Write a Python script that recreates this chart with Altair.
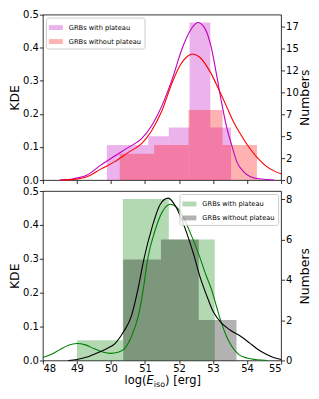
import altair as alt
import pandas as pd

FONT = "DejaVu Sans"
X_DOMAIN = [48, 55]
X_TICKS = [48, 49, 50, 51, 52, 53, 54, 55]
KDE_TICKS = [0.0, 0.1, 0.2, 0.3, 0.4, 0.5]
LABELS = ["GRBs with plateau", "GRBs without plateau"]

# ---------------- top panel data ----------------
TOP_WITH_EDGES = [49.88, 50.49, 51.10, 51.70, 52.31, 52.92, 53.53]
TOP_WITH_COUNTS = [4, 4, 5, 6, 18, 6]
TOP_WITHOUT_EDGES = [50.26, 51.27, 52.28, 53.28, 54.29]
TOP_WITHOUT_COUNTS = [3, 4, 8, 4]

TOP_WITH_KDE_X = [48.5, 48.9, 49.3, 49.7, 50.1, 50.5, 50.9, 51.2, 51.5, 51.8, 52.1, 52.35,
                  52.55, 52.75, 52.95, 53.1, 53.25, 53.4, 53.55, 53.7, 53.9, 54.1, 54.4, 54.8]
TOP_WITH_KDE_Y = [0.000, 0.004, 0.015, 0.045, 0.072, 0.098, 0.125, 0.165, 0.225, 0.305, 0.400, 0.455,
                  0.476, 0.460, 0.400, 0.320, 0.235, 0.160, 0.105, 0.055, 0.025, 0.010, 0.003, 0.000]
TOP_WITHOUT_KDE_X = [48.5, 48.9, 49.3, 49.7, 50.1, 50.5, 50.9, 51.2, 51.5, 51.8, 52.05, 52.25,
                     52.4, 52.6, 52.9, 53.2, 53.4, 53.6, 53.8, 54.05, 54.3, 54.55, 54.8, 55.0]
TOP_WITHOUT_KDE_Y = [0.000, 0.002, 0.010, 0.033, 0.055, 0.083, 0.110, 0.150, 0.210, 0.295, 0.350, 0.374,
                     0.381, 0.372, 0.330, 0.267, 0.222, 0.176, 0.140, 0.100, 0.068, 0.043, 0.027, 0.019]
TOP_RIGHT_MAX = 18.9
TOP_RIGHT_TICKS = [0, 2.5, 5, 7.5, 10, 12.5, 15, 17.5]
TOP_COLORS = ["#bf00bf", "#ff0000"]

# ---------------- bottom panel data ----------------
BOT_WITH_EDGES = [49.00, 50.35, 51.70, 53.05]
BOT_WITH_COUNTS = [1, 8, 6]
BOT_WITHOUT_EDGES = [50.36, 51.47, 52.58, 53.69]
BOT_WITHOUT_COUNTS = [5, 6, 2]

BOT_WITH_KDE_X = [48.0, 48.25, 48.5, 48.75, 49.0, 49.25, 49.5, 49.75, 50.0, 50.2, 50.4, 50.6,
                  50.8, 50.95, 51.08, 51.3, 51.5, 51.75, 51.95, 52.15, 52.35, 52.55, 52.8, 52.96,
                  53.1, 53.25, 53.4, 53.55, 53.75, 54.0, 54.3, 54.6]
BOT_WITH_KDE_Y = [0.009, 0.018, 0.032, 0.045, 0.050, 0.046, 0.035, 0.025, 0.021, 0.024, 0.035, 0.070,
                  0.130, 0.210, 0.300, 0.385, 0.437, 0.461, 0.450, 0.418, 0.372, 0.322, 0.250, 0.208,
                  0.160, 0.110, 0.070, 0.042, 0.018, 0.007, 0.002, 0.000]
BOT_WITHOUT_KDE_X = [48.75, 49.0, 49.3, 49.64, 49.9, 50.12, 50.36, 50.6, 50.79, 50.97, 51.2, 51.45,
                     51.68, 51.9, 52.14, 52.43, 52.62, 52.8, 53.0, 53.25, 53.5, 53.8, 54.07, 54.3,
                     54.55, 54.8, 55.0]
BOT_WITHOUT_KDE_Y = [0.000, 0.003, 0.010, 0.024, 0.036, 0.050, 0.083, 0.131, 0.208, 0.300, 0.390, 0.461,
                     0.479, 0.455, 0.400, 0.313, 0.246, 0.195, 0.145, 0.110, 0.090, 0.072, 0.052, 0.034,
                     0.019, 0.008, 0.003]
BOT_RIGHT_MAX = 8.4
BOT_RIGHT_TICKS = [0, 2, 4, 6, 8]
BOT_COLORS = ["#008000", "#000000"]

PANEL_W = 239
TOP_H = 166
BOT_H = 170


def bar_table(groups):
    rows = []
    for label, edges, counts in groups:
        for i, c in enumerate(counts):
            rows.append({"x0": edges[i], "x1": edges[i + 1], "n": c, "series": label})
    return pd.DataFrame(rows)


def make_panel(bars_df, kdes, colors, legend_orient, right_max, right_ticks, right_label_expr,
               show_x_labels, height, extra=None):
    xscale = alt.Scale(domain=X_DOMAIN, nice=False, zero=False)
    xaxis = alt.Axis(values=X_TICKS, labels=show_x_labels, title=None, domain=False, grid=False,
                     ticks=True, tickSize=3.5, tickWidth=0.8, tickColor="black",
                     labelFontSize=10, labelColor="black", labelFont=FONT, labelPadding=0,
                     format="d")
    right_axis = alt.Axis(orient="right", values=right_ticks, labelExpr=right_label_expr,
                          title="Numbers", titleAngle=270, titleBaseline="top",
                          titleAlign="center", titleX=17, titleY=height / 2,
                          titleFontSize=12.5, titleFontWeight="normal", titleFont=FONT,
                          titleColor="black", domain=False, grid=False,
                          tickSize=3.5, tickWidth=0.8, tickColor="black", labelFontSize=10,
                          labelColor="black", labelFont=FONT, labelPadding=1)
    left_axis = alt.Axis(orient="left", values=KDE_TICKS, format=".1f", title="KDE",
                         titleAngle=270, titleBaseline="bottom", titleAlign="center",
                         titleX=-21, titleY=height / 2,
                         titleFontSize=12.5, titleFontWeight="normal", titleFont=FONT,
                         titleColor="black", domain=False, grid=False,
                         tickSize=3.5, tickWidth=0.8, tickColor="black", labelFontSize=10,
                         labelColor="black", labelFont=FONT, labelPadding=1)
    legend = alt.Legend(title=None, orient=legend_orient, offset=3, padding=3,
                        fillColor="rgba(255,255,255,0.8)", strokeColor="#cccccc",
                        cornerRadius=2, symbolType="M-1,-0.35H1V0.35H-1Z", symbolSize=196,
                        symbolOpacity=0.3, symbolStrokeWidth=0, labelFontSize=6.7,
                        labelFont=FONT, labelColor="black", labelOffset=6, rowPadding=3,
                        labelLimit=300)
    bars = alt.Chart(bars_df).mark_rect(opacity=0.3).encode(
        x=alt.X("x0:Q", scale=xscale, axis=xaxis),
        x2="x1:Q",
        y=alt.Y("n:Q", scale=alt.Scale(domain=[0, right_max], nice=False, zero=True),
                axis=right_axis),
        y2=alt.datum(0),
        color=alt.Color("series:N", scale=alt.Scale(domain=LABELS, range=colors), legend=legend),
    )
    lines = []
    for (xs, ys), col in zip(kdes, colors):
        df = pd.DataFrame({"x": xs, "kde": ys})
        lines.append(
            alt.Chart(df).mark_line(color=col, strokeWidth=1.1, interpolate="monotone").encode(
                x=alt.X("x:Q", scale=xscale, axis=xaxis),
                y=alt.Y("kde:Q", scale=alt.Scale(domain=[0, 0.5], nice=False), axis=left_axis),
            )
        )
    layers = [bars, alt.layer(*lines)] + (extra or [])
    return alt.layer(*layers).resolve_scale(y="independent").properties(width=PANEL_W, height=height)


def title_piece(text, x, y, size, italic=False):
    return alt.Chart(pd.DataFrame({"t": [text]})).mark_text(
        align="left", baseline="alphabetic", font=FONT, fontSize=size,
        fontStyle="italic" if italic else "normal", color="black", text=text,
    ).encode(x=alt.value(x), y=alt.value(y))


top = make_panel(
    bar_table([(LABELS[0], TOP_WITH_EDGES, TOP_WITH_COUNTS),
               (LABELS[1], TOP_WITHOUT_EDGES, TOP_WITHOUT_COUNTS)]),
    [(TOP_WITH_KDE_X, TOP_WITH_KDE_Y), (TOP_WITHOUT_KDE_X, TOP_WITHOUT_KDE_Y)],
    TOP_COLORS, "top-left", TOP_RIGHT_MAX, TOP_RIGHT_TICKS, "'' + floor(datum.value)",
    False, TOP_H,
)

TB = BOT_H + 24
title_layers = [
    title_piece("log(", 82, TB, 11.5),
    title_piece("E", 104, TB, 11.5, italic=True),
    title_piece("iso", 111.3, TB + 2.5, 8),
    title_piece(") [erg]", 122.6, TB, 11.5),
]

bottom = make_panel(
    bar_table([(LABELS[0], BOT_WITH_EDGES, BOT_WITH_COUNTS),
               (LABELS[1], BOT_WITHOUT_EDGES, BOT_WITHOUT_COUNTS)]),
    [(BOT_WITH_KDE_X, BOT_WITH_KDE_Y), (BOT_WITHOUT_KDE_X, BOT_WITHOUT_KDE_Y)],
    BOT_COLORS, "top-right", BOT_RIGHT_MAX, BOT_RIGHT_TICKS, "'' + datum.value",
    True, BOT_H, extra=title_layers,
)

chart = alt.vconcat(top, bottom, spacing=11, bounds="flush").resolve_scale(
    x="independent", y="independent", color="independent"
).properties(
    padding={"left": 0, "top": 0, "right": 0, "bottom": 0}
).configure(font=FONT).configure_view(stroke="black", strokeWidth=0.8)

chart.save("out.html", embed_options={"renderer": "svg", "actions": False})
